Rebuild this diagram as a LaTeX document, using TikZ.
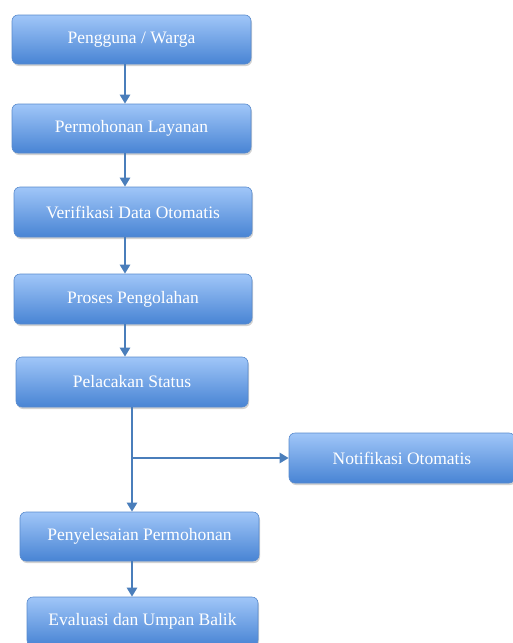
\documentclass[tikz,border=0pt]{standalone}
\usepackage{fontspec}
\setmainfont{Liberation Serif}
\usetikzlibrary{positioning,arrows.meta,shadows}
\definecolor{boxtop}{RGB}{160,198,248}
\definecolor{boxbot}{RGB}{72,132,212}
\definecolor{boxline}{RGB}{88,138,205}
\definecolor{flowblue}{RGB}{74,126,187}

\begin{document}
\begin{tikzpicture}[x=1pt,y=-1pt,
  stepbox/.style={draw=boxline,line width=0.6pt,rounded corners=6pt,top color=boxtop,bottom color=boxbot,
    text=white,font=\fontsize{17.5}{19}\selectfont,minimum height=49pt,inner sep=0pt,
    drop shadow={shadow xshift=1pt,shadow yshift=-2pt,fill=black!35,opacity=0.5}},
  flow/.style={draw=flowblue,line width=2.8pt,-{Triangle[width=10pt,length=9pt]}}]
\useasboundingbox (0,0) rectangle (512,643);
\node[stepbox,minimum width=239pt] (user) at (131.5,39.5) {Pengguna / Warga};
\node[stepbox,minimum width=239pt] (req) at (131.5,128.5) {Permohonan Layanan};
\node[stepbox,minimum width=238pt,minimum height=50pt] (verif) at (133,212) {Verifikasi Data Otomatis};
\node[stepbox,minimum width=238pt,minimum height=50pt] (proc) at (133,299) {Proses Pengolahan};
\node[stepbox,minimum width=232pt,minimum height=50pt] (track) at (132,382) {Pelacakan Status};
\node[stepbox,minimum width=226pt,minimum height=50pt] (notif) at (402,458) {Notifikasi Otomatis};
\node[stepbox,minimum width=239pt] (done) at (139.5,536.5) {Penyelesaian Permohonan};
\node[stepbox,minimum width=231pt] (eval) at (142.5,621.5) {Evaluasi dan Umpan Balik};
% vertical flow
\draw[flow] ([xshift=-6.5pt]user.south) -- ([xshift=-6.5pt]user.south |- req.north);
\draw[flow] ([xshift=-6.5pt]req.south) -- ([xshift=-6.5pt]req.south |- verif.north);
\draw[flow] ([xshift=-8pt]verif.south) -- ([xshift=-8pt]verif.south |- proc.north);
\draw[flow] ([xshift=-8pt]proc.south) -- ([xshift=-8pt]proc.south |- track.north);
\draw[flow] (track.south) -- (track.south |- done.north);
\draw[flow] ([xshift=-7.5pt]done.south) -- ([xshift=-7.5pt]done.south |- eval.north);
% branch to notification
\coordinate (split) at (track.south |- notif.west);
\draw[flow] (split) -- (notif.west);
\end{tikzpicture}
\end{document}
